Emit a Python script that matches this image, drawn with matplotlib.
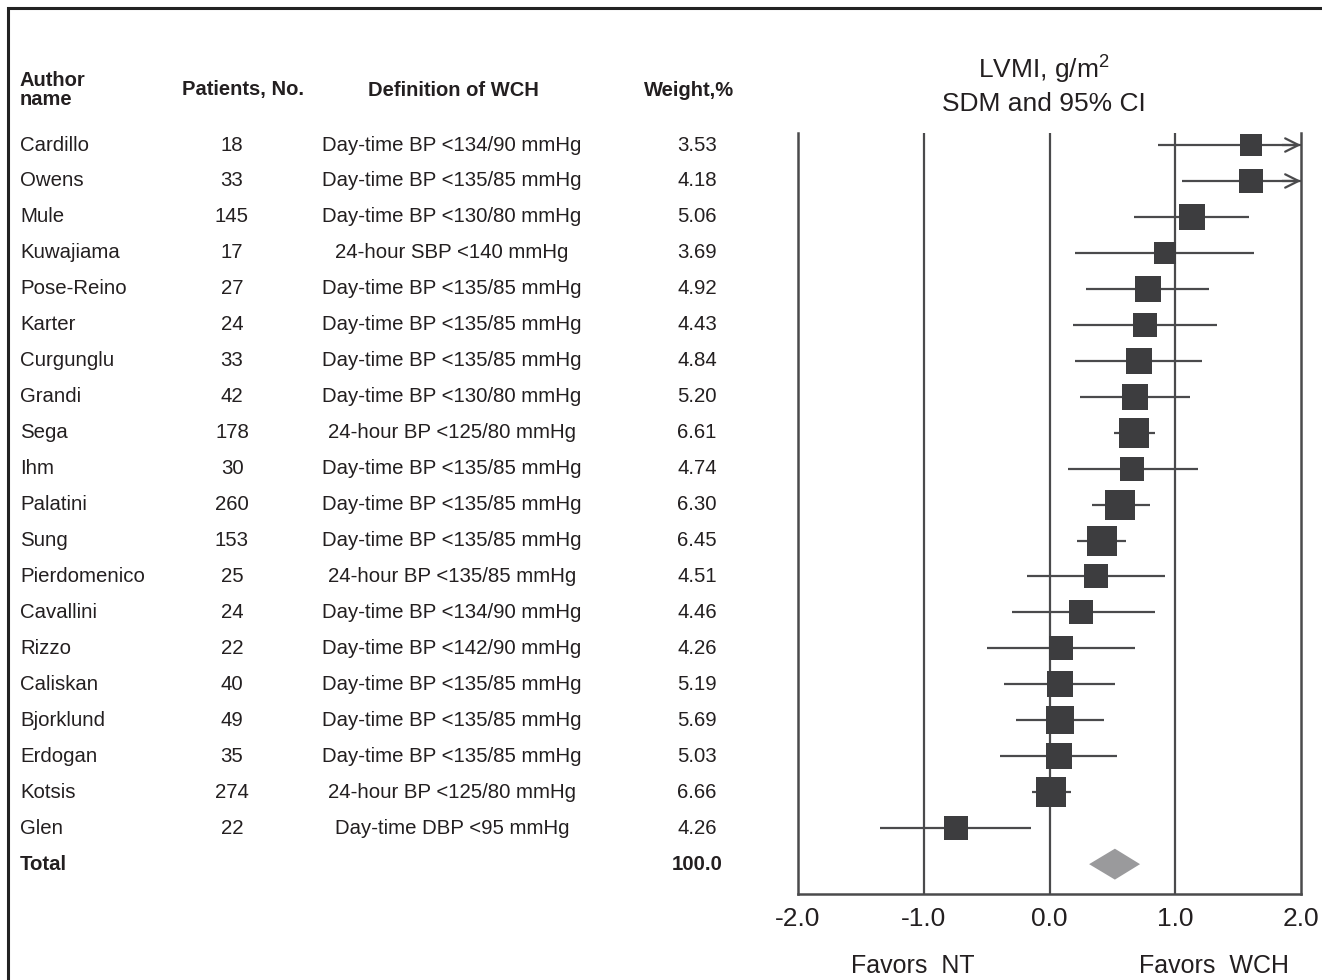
import matplotlib
matplotlib.use("Agg")
from matplotlib import pyplot as plt
from matplotlib import transforms
from matplotlib.patches import Rectangle, Polygon

plt.rcParams['font.family'] = ['Liberation Sans', 'DejaVu Sans']
plt.rcParams['mathtext.fontset'] = 'custom'
plt.rcParams['mathtext.rm'] = 'Liberation Sans'
plt.rcParams['mathtext.default'] = 'regular'
plt.rcParams['text.color'] = '#231f20'
plt.rcParams['xtick.color'] = '#231f20'

# ---------------------- data
authors = ["Cardillo", "Owens", "Mule", "Kuwajiama", "Pose-Reino", "Karter", "Curgunglu",
           "Grandi", "Sega", "Ihm", "Palatini", "Sung", "Pierdomenico", "Cavallini",
           "Rizzo", "Caliskan", "Bjorklund", "Erdogan", "Kotsis", "Glen"]
patients = [18, 33, 145, 17, 27, 24, 33, 42, 178, 30, 260, 153, 25, 24, 22, 40, 49, 35, 274, 22]
definitions = ["Day-time BP <134/90 mmHg", "Day-time BP <135/85 mmHg", "Day-time BP <130/80 mmHg",
               "24-hour SBP <140 mmHg", "Day-time BP <135/85 mmHg", "Day-time BP <135/85 mmHg",
               "Day-time BP <135/85 mmHg", "Day-time BP <130/80 mmHg", "24-hour BP <125/80 mmHg",
               "Day-time BP <135/85 mmHg", "Day-time BP <135/85 mmHg", "Day-time BP <135/85 mmHg",
               "24-hour BP <135/85 mmHg", "Day-time BP <134/90 mmHg", "Day-time BP <142/90 mmHg",
               "Day-time BP <135/85 mmHg", "Day-time BP <135/85 mmHg", "Day-time BP <135/85 mmHg",
               "24-hour BP <125/80 mmHg", "Day-time DBP <95 mmHg"]
weights = [3.53, 4.18, 5.06, 3.69, 4.92, 4.43, 4.84, 5.20, 6.61, 4.74,
           6.30, 6.45, 4.51, 4.46, 4.26, 5.19, 5.69, 5.03, 6.66, 4.26]
sdm = [1.60, 1.60, 1.13, 0.92, 0.78, 0.76, 0.71, 0.68, 0.67, 0.66,
       0.56, 0.42, 0.37, 0.25, 0.09, 0.085, 0.085, 0.077, 0.01, -0.74]
ci_low = [0.86, 1.05, 0.67, 0.20, 0.29, 0.19, 0.20, 0.24, 0.51, 0.145,
          0.34, 0.22, -0.175, -0.30, -0.50, -0.36, -0.27, -0.39, -0.14, -1.35]
# upper bounds beyond the axis are shown truncated with an arrow
ci_high = [2.0, 2.0, 1.59, 1.63, 1.27, 1.33, 1.21, 1.12, 0.84, 1.18,
           0.80, 0.61, 0.92, 0.84, 0.68, 0.52, 0.43, 0.54, 0.17, -0.15]
truncated = [True, True] + [False] * 18
total_sdm, total_low, total_high = 0.52, 0.315, 0.72
total_weight = "100.0"
xticks = [-2.0, -1.0, 0.0, 1.0, 2.0]

# ---------------------- figure
W, H = 1322, 980
fig = plt.figure(figsize=(W / 100, H / 100), dpi=100)
fig.patch.set_facecolor("white")

ax = fig.add_axes([798 / W, 1 - 894 / H, 503 / W, (894 - 133) / H])
ax.set_xlim(-2, 2)
ax.set_ylim(20.83, -0.334)

line_c = "#4a4a4c"
sq_c = "#3d3d3f"

for xv in [-1, 0, 1]:
    ax.axvline(xv, color=line_c, linewidth=1.6, zorder=1)

for i in range(len(authors)):
    ax.plot([ci_low[i], ci_high[i]], [i, i], color=line_c, linewidth=1.6, zorder=2,
            solid_capstyle="butt")
    if truncated[i]:
        ax.annotate("", xy=(ci_high[i], i), xytext=(ci_high[i] - 0.15, i),
                    arrowprops=dict(arrowstyle="->", color=line_c, lw=1.6,
                                    mutation_scale=24, shrinkA=0, shrinkB=0),
                    zorder=3, annotation_clip=False)
    ms = (11.5 + 2.8 * weights[i]) * 0.72
    ax.plot(sdm[i], i, marker="s", markersize=ms, color=sq_c, zorder=4,
            markeredgewidth=0)

ty = len(authors)
ax.add_patch(Polygon([[total_low, ty], [total_sdm, ty - 0.43], [total_high, ty],
                      [total_sdm, ty + 0.43]], closed=True, facecolor="#9a9a9c",
                     edgecolor="none", zorder=4))

for s in ["left", "right", "bottom"]:
    ax.spines[s].set_color(line_c)
    ax.spines[s].set_linewidth(1.8)
ax.spines["top"].set_visible(False)
ax.set_yticks([])
ax.set_xticks(xticks)
ax.set_xticklabels([f"{t:.1f}" for t in xticks], fontsize=19)
ax.tick_params(axis="x", length=0, pad=9)

# ---------------------- table on the left
tr = transforms.blended_transform_factory(fig.transFigure, ax.transData)
fs = 14.7
for i in range(len(authors)):
    fig.text(20 / W, i, authors[i], transform=tr, fontsize=fs, va="center", ha="left")
    fig.text(232 / W, i, str(patients[i]), transform=tr, fontsize=fs, va="center", ha="center")
    fig.text(452 / W, i, definitions[i], transform=tr, fontsize=fs, va="center", ha="center")
    fig.text(697 / W, i, f"{weights[i]:.2f}", transform=tr, fontsize=fs, va="center", ha="center")
fig.text(20 / W, ty, "Total", transform=tr, fontsize=fs, va="center", ha="left", weight="bold")
fig.text(697 / W, ty, total_weight, transform=tr, fontsize=fs, va="center", ha="center",
         weight="bold")

hy = 1 - 90 / H
fig.text(20 / W, hy, "Author\nname", fontsize=14.5, weight="bold", va="center", ha="left",
         linespacing=0.95)
fig.text(243 / W, hy, "Patients, No.", fontsize=14.5, weight="bold", va="center", ha="center")
fig.text(453 / W, hy, "Definition of WCH", fontsize=14.5, weight="bold", va="center", ha="center")
fig.text(689 / W, hy, "Weight,%", fontsize=14.5, weight="bold", va="center", ha="center")

fig.text(1044 / W, 1 - 70 / H, "LVMI, g/m$^{2}$", fontsize=19, va="center", ha="center")
fig.text(1044 / W, 1 - 104 / H, "SDM and 95% CI", fontsize=19, va="center", ha="center")

fig.text(913 / W, 1 - 966 / H, "Favors  NT", fontsize=18, va="center", ha="center")
fig.text(1214 / W, 1 - 966 / H, "Favors  WCH", fontsize=18, va="center", ha="center")

# outer frame
fig.patches.append(Rectangle((8 / W, -0.1), 1.2, 1 - 8 / H + 0.1, transform=fig.transFigure,
                             fill=False, edgecolor="#222222", linewidth=2.2))

plt.savefig("out.png", dpi=100)
